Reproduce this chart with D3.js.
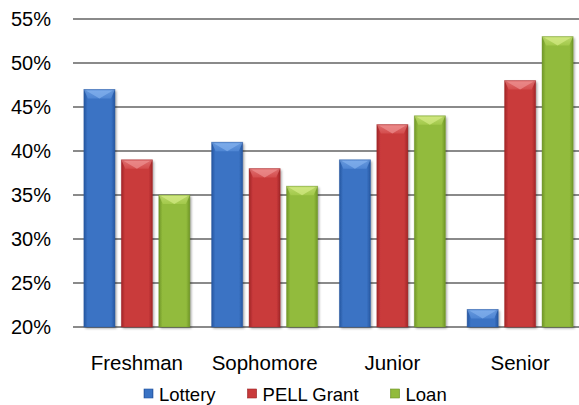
<!DOCTYPE html>
<html>
<head>
<meta charset="utf-8">
<script src="https://cdn.jsdelivr.net/npm/d3@7"></script>
<style>
  html, body { margin: 0; padding: 0; background: #fff; }
  svg { display: block; font-family: "Liberation Sans", Arial, sans-serif; }
</style>
</head>
<body>
<svg id="chart" width="579" height="405"></svg>
<script>
const categories = ["Freshman", "Sophomore", "Junior", "Senior"];
const seriesNames = ["Lottery", "PELL Grant", "Loan"];
const lottery = [47, 41, 39, 22];
const pellGrant = [39, 38, 43, 48];
const loan = [35, 36, 44, 53];
const yTicks = [20, 25, 30, 35, 40, 45, 50, 55];

const seriesValues = [lottery, pellGrant, loan];
const palette = [
  { base: "#3a73c4", dark: "#2656a0", light: "#5f95e0", top: "#8ab8f2" },
  { base: "#c93a3b", dark: "#a02527", light: "#dc5a5a", top: "#f29a9a" },
  { base: "#92bb3c", dark: "#6f9527", light: "#b0d456", top: "#dcf08e" }
];

const svg = d3.select("#chart");
const plot = { left: 73, right: 584, top: 19, bottom: 327 };

const x = d3.scaleBand().domain(categories).range([plot.left, plot.right]).paddingInner(0.17).paddingOuter(0.085);
const xs = d3.scaleBand().domain(seriesNames).range([0, x.bandwidth()]).paddingInner(0.17);
const y = d3.scaleLinear().domain([20, 55]).range([plot.bottom, plot.top]);

const defs = svg.append("defs");
palette.forEach((p, i) => {
  const g = defs.append("linearGradient").attr("id", "g" + i).attr("x1", 0).attr("x2", 1).attr("y1", 0).attr("y2", 0);
  g.append("stop").attr("offset", 0).attr("stop-color", p.dark);
  g.append("stop").attr("offset", 0.12).attr("stop-color", p.base);
  g.append("stop").attr("offset", 0.5).attr("stop-color", p.base);
  g.append("stop").attr("offset", 0.88).attr("stop-color", p.base);
  g.append("stop").attr("offset", 1).attr("stop-color", p.dark);
  const t = defs.append("linearGradient").attr("id", "t" + i).attr("x1", 0).attr("x2", 0).attr("y1", 0).attr("y2", 1);
  t.append("stop").attr("offset", 0).attr("stop-color", p.top);
  t.append("stop").attr("offset", 1).attr("stop-color", p.light);
});
const f = defs.append("filter").attr("id", "shadow").attr("x", "-20%").attr("y", "-20%").attr("width", "150%").attr("height", "150%");
f.append("feDropShadow").attr("dx", 1.5).attr("dy", 1.5).attr("stdDeviation", 1.2).attr("flood-color", "#000").attr("flood-opacity", 0.35);

// gridlines
svg.append("g").selectAll("line").data(yTicks).join("line")
  .attr("x1", plot.left).attr("x2", plot.right)
  .attr("y1", d => y(d)).attr("y2", d => y(d))
  .attr("stroke", "#8a8a8a").attr("stroke-width", 2);

// y axis labels
const yAxis = d3.axisLeft(y).tickValues(yTicks).tickSize(0).tickPadding(0).tickFormat(d => d + "%");
const ya = svg.append("g").attr("transform", "translate(51,0)").call(yAxis);
ya.select(".domain").remove();
ya.selectAll("text").attr("font-size", 20).attr("fill", "#000").attr("font-family", "Liberation Sans, Arial, sans-serif");

// bars
const bars = [];
categories.forEach((c, ci) => {
  seriesNames.forEach((s, si) => {
    bars.push({ c, s, si, v: seriesValues[si][ci] });
  });
});
const bg = svg.append("g");
const barG = bg.selectAll("g.bar").data(bars).join("g").attr("class", "bar");
barG.each(function(d) {
  const g = d3.select(this);
  const bx = x(d.c) + xs(d.s), bw = xs.bandwidth();
  const by = y(d.v), bh = y(20) - y(d.v);
  const b = 4;
  g.append("rect").attr("x", bx).attr("y", by).attr("width", bw).attr("height", bh)
    .attr("fill", `url(#g${d.si})`).attr("filter", "url(#shadow)");
  const tb = Math.min(9, bh);
  g.append("path")
    .attr("d", `M${bx},${by} L${bx + bw},${by} L${bx + bw - b},${by + tb} L${bx + b},${by + tb} Z`)
    .attr("fill", `url(#t${d.si})`).attr("opacity", 0.55);
  g.append("path")
    .attr("d", `M${bx + 2},${by + 1} L${bx + bw - 2},${by + 1} L${bx + bw / 2},${by + tb} Z`)
    .attr("fill", palette[d.si].top).attr("opacity", 0.6);
  g.append("rect").attr("x", bx).attr("y", by).attr("width", bw).attr("height", bh)
    .attr("fill", "none").attr("stroke", palette[d.si].dark).attr("stroke-opacity", 0.5).attr("stroke-width", 0.8);
});

// category labels
svg.append("g").selectAll("text").data(categories).join("text")
  .attr("x", d => x(d) + x.bandwidth() / 2).attr("y", 370)
  .attr("text-anchor", "middle").attr("font-size", 20.5).attr("fill", "#000")
  .text(d => d);

// legend
const leg = svg.append("g");
let lx = 144;
seriesNames.forEach((s, i) => {
  leg.append("rect").attr("x", lx).attr("y", 389).attr("width", 9).attr("height", 9)
    .attr("fill", `url(#g${i})`).attr("stroke", palette[i].dark).attr("stroke-width", 0.6);
  const t = leg.append("text").attr("x", lx + 15).attr("y", 401).attr("font-size", 18.5).attr("fill", "#000").text(s);
  lx += 15 + t.node().getComputedTextLength() + 32;
});
</script>
</body>
</html>
